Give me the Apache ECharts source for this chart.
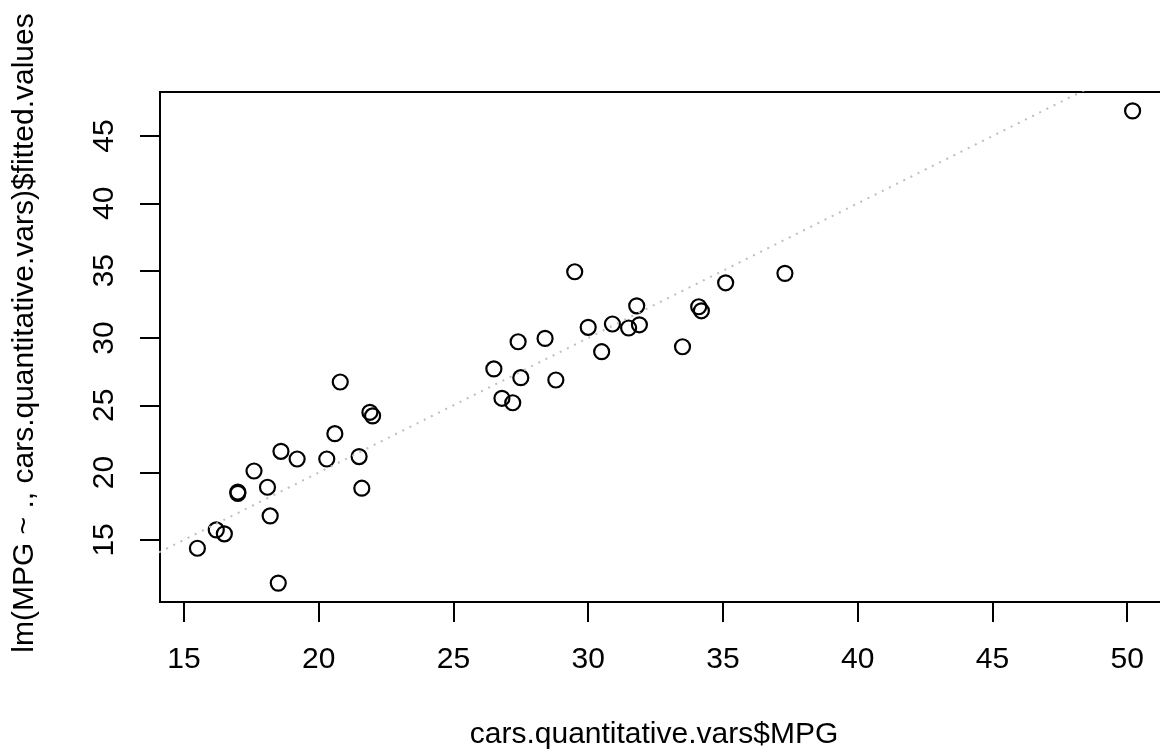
<!DOCTYPE html>
<html>
<head>
<meta charset="utf-8">
<script src="https://cdn.jsdelivr.net/npm/echarts@6/dist/echarts.min.js"></script>
<style>html,body{margin:0;padding:0;background:#fff;}#c{width:1160px;height:753px;}</style>
</head>
<body>
<div id="c"></div>
<script>
var mpg = [15.5,16.2,16.5,17.0,17.0,17.6,18.1,18.2,18.5,18.6,19.2,20.3,20.6,20.8,21.5,21.6,21.9,22.0,
           26.5,26.8,27.2,27.4,27.5,28.4,28.8,29.5,30.0,30.5,30.9,31.5,31.8,31.9,33.5,34.1,34.2,35.1,37.3,50.2];
var fitted = [14.38,15.74,15.45,18.56,18.46,20.12,18.91,16.78,11.79,21.58,21.01,21.01,22.89,26.73,21.19,18.84,24.48,24.21,
              27.70,25.52,25.19,29.72,27.05,29.97,26.88,34.92,30.79,28.98,31.04,30.74,32.39,30.98,29.35,32.32,32.02,34.10,34.80,46.87];
var xTicks = [15,20,25,30,35,40,45,50];
var yTicks = [15,20,25,30,35,40,45];
var refLine = [[0,0],[60,60]];
var xTitle = 'cars.quantitative.vars$MPG';
var yTitle = 'lm(MPG ~ ., cars.quantitative.vars)$fitted.values';

function ext(a){var lo=Math.min.apply(null,a),hi=Math.max.apply(null,a),d=(hi-lo)*0.04;return [lo-d,hi+d];}
var xe = ext(mpg), ye = ext(fitted);
var pts = mpg.map(function(v,i){return [v,fitted[i]];});
var font = 'Liberation Sans, Arial, Helvetica, sans-serif';

var chart = echarts.init(document.getElementById('c'), null, {renderer:'canvas'});
chart.setOption({
  animation:false,
  backgroundColor:'#fff',
  grid:{left:160, top:92, width:1010, height:510, outerBoundsMode:'none', containLabel:false,
        show:true, borderColor:'#000', borderWidth:2, backgroundColor:'transparent'},
  xAxis:{
    type:'value', min:xe[0], max:xe[1],
    axisLine:{show:false},
    axisTick:{show:true, inside:false, length:20, customValues:xTicks, lineStyle:{color:'#000', width:2}},
    axisLabel:{show:true, customValues:xTicks, margin:58, verticalAlign:'middle', color:'#000', fontSize:30, fontFamily:font},
    splitLine:{show:false},
    name:xTitle, nameLocation:'middle', nameGap:133,
    nameTextStyle:{color:'#000', fontSize:30, fontFamily:font, verticalAlign:'middle', padding:[0,22,0,0]}
  },
  yAxis:{
    type:'value', min:ye[0], max:ye[1],
    axisLine:{show:false},
    axisTick:{show:true, inside:false, length:20, customValues:yTicks, lineStyle:{color:'#000', width:2}},
    axisLabel:{show:true, customValues:yTicks, rotate:90, margin:55, align:'center', verticalAlign:'middle', color:'#000', fontSize:30, fontFamily:font},
    splitLine:{show:false},
    name:yTitle, nameLocation:'middle', nameGap:135, nameRotate:90,
    nameTextStyle:{color:'#000', fontSize:30, fontFamily:font, verticalAlign:'middle', padding:[0,0,0,28]}
  },
  series:[
    {type:'line', data:refLine, symbol:'none', clip:true, silent:true,
     lineStyle:{color:'#bebebe', width:2, type:[2,6]}},
    {type:'scatter', data:pts, symbol:'circle', symbolSize:15,
     itemStyle:{color:'rgba(0,0,0,0)', borderColor:'#000', borderWidth:2.2, opacity:1}}
  ]
});
</script>
</body>
</html>
